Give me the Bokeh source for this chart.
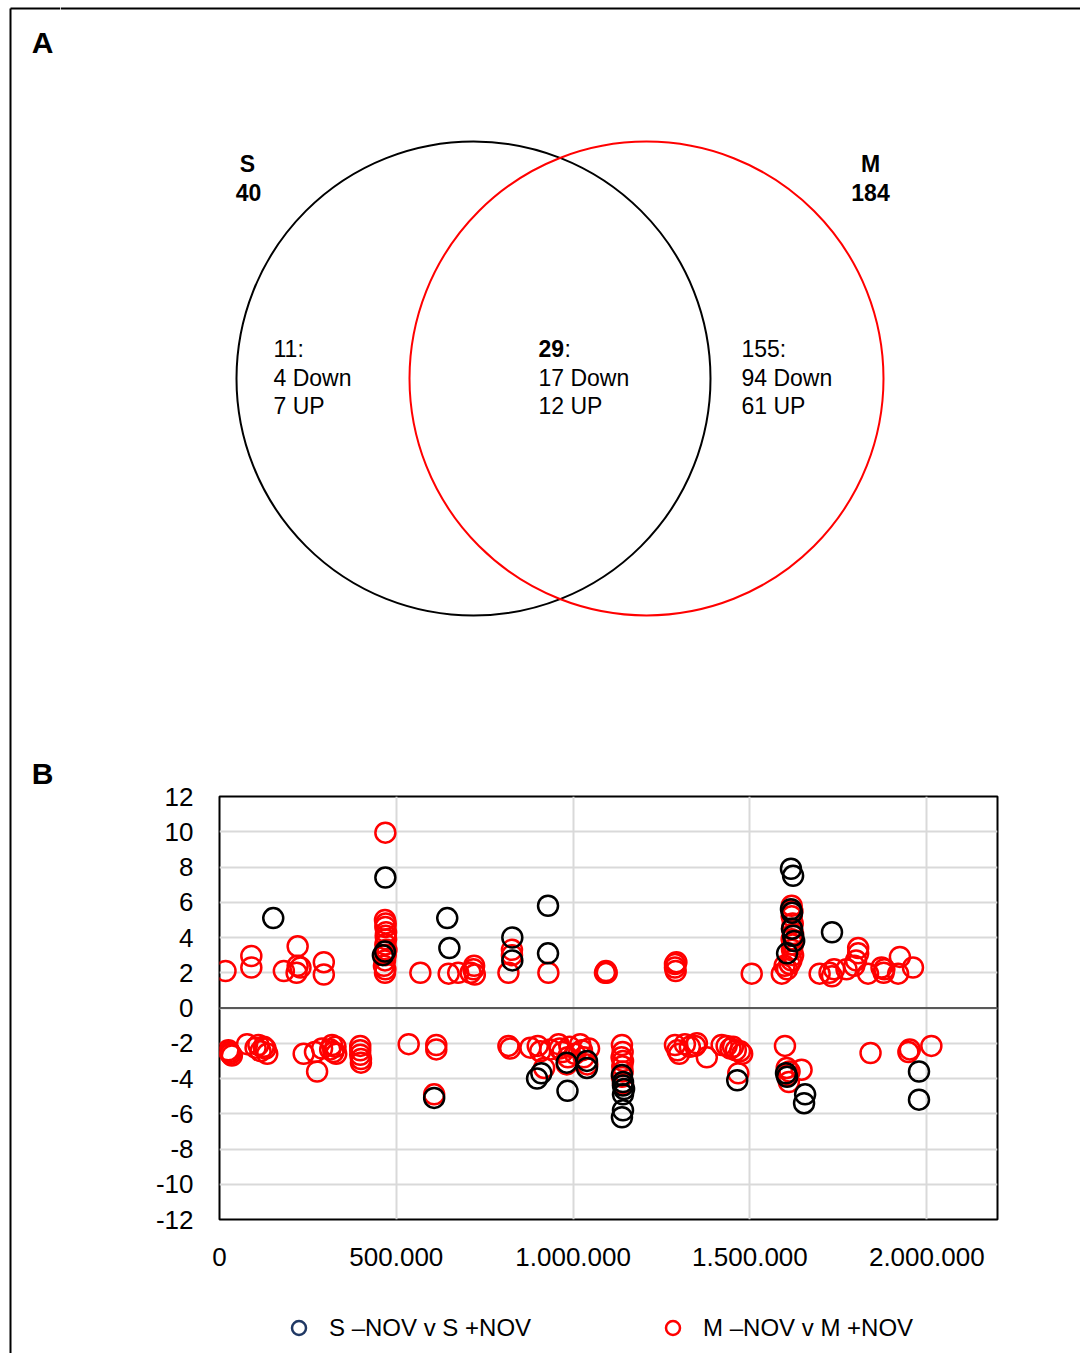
from bokeh.plotting import figure
from bokeh.models import Range1d, Legend, LegendItem, Span, FixedTicker
from bokeh.layouts import column, row
from bokeh.embed import file_html
from bokeh.resources import INLINE
from bokeh.core.properties import value

FONT = "Liberation Sans"

# ---------------- Panel A: Venn counts ----------------
set_names = ["S", "M"]
set_totals = [40, 184]
region_totals = [11, 29, 155]      # S only, both, M only
region_down = [4, 17, 94]
region_up = [7, 12, 61]

# ---------------- Panel B: scatter data ----------------
# S -NOV v S +NOV (black)
s_up_x = [152000, 469000, 462000, 468000, 644000, 650000, 828000, 828000, 929000, 929000,
          1616000, 1622000, 1616000, 1619000, 1619000, 1622000, 1625000, 1605000, 1732000]
s_up_y = [5.1, 7.4, 3.0, 3.2, 5.1, 3.4, 4.0, 2.7, 5.8, 3.1,
          7.9, 7.5, 5.6, 5.4, 4.5, 4.1, 3.8, 3.1, 4.3]
s_down_x = [607000, 898000, 910000, 984000, 982000, 1039000, 1039000,
            1138000, 1141000, 1144000, 1141000, 1141000, 1141000, 1138000,
            1464000, 1602000, 1605000, 1656000, 1653000, 1978000, 1978000]
s_down_y = [-5.1, -4.0, -3.7, -4.7, -3.1, -3.0, -3.4,
            -3.8, -4.2, -4.6, -4.4, -4.9, -5.8, -6.2,
            -4.1, -3.7, -3.9, -4.9, -5.4, -3.6, -5.2]

# M -NOV v M +NOV (red)
m_up_x = [17000, 90000, 90000, 182000, 221000, 221000, 218000, 229000, 295000, 295000,
          469000, 468000, 470000, 469000, 471000, 470000, 471000, 469000, 472000, 470000,
          468000, 465000, 469000, 468000, 568000, 648000, 675000, 710000, 718000, 720000,
          722000, 817000, 827000, 827000, 930000, 1093000, 1095000, 1090000, 1288000, 1288000,
          1290000, 1292000, 1505000, 1590000, 1598000, 1605000, 1618000, 1620000, 1618000, 1621000,
          1619000, 1622000, 1618000, 1621000, 1619000, 1622000, 1617000, 1612000, 1697000, 1725000,
          1732000, 1738000, 1773000, 1806000, 1806000, 1800000, 1795000, 1834000, 1872000, 1878000,
          1880000, 1919000, 1924000, 1961000]
m_up_y = [2.1, 2.95, 2.3, 2.1, 3.5, 2.4, 2.0, 2.3, 2.6, 1.9,
          9.95, 5.0, 4.8, 4.6, 4.3, 4.1, 3.9, 3.6, 3.3, 3.0,
          2.7, 2.4, 2.2, 2.0, 2.0, 1.95, 2.0, 2.0, 2.2, 2.4,
          1.9, 2.0, 3.3, 3.0, 2.0, 2.1, 2.0, 2.0, 2.5, 2.3,
          2.1, 2.6, 1.95, 1.95, 2.4, 2.2, 5.8, 5.5, 5.2, 4.8,
          4.5, 4.2, 3.9, 3.6, 3.3, 3.0, 2.7, 2.5, 1.95, 2.0,
          1.8, 2.2, 2.2, 3.4, 3.1, 2.7, 2.4, 1.95, 2.3, 2.0,
          2.2, 1.95, 2.9, 2.3]
m_down_x = [31000, 25000, 28000, 35000, 78000, 102000, 110000, 116000, 125000, 130000,
            135000, 238000, 276000, 270000, 290000, 313000, 318000, 322000, 328000, 330000,
            398000, 398000, 398000, 400000, 400000, 535000, 613000, 613000, 607000, 817000,
            822000, 879000, 900000, 907000, 918000, 935000, 959000, 962000, 970000, 982000,
            985000, 990000, 1005000, 1020000, 1025000, 1030000, 1040000, 1045000, 1138000, 1140000,
            1137000, 1141000, 1139000, 1140000, 1138000, 1141000, 1288000, 1295000, 1300000, 1316000,
            1330000, 1345000, 1350000, 1378000, 1420000, 1434000, 1445000, 1452000, 1460000, 1472000,
            1478000, 1467000, 1599000, 1604000, 1608000, 1610000, 1612000, 1646000, 1841000, 1952000,
            1948000, 2013000]
m_down_y = [-2.6, -2.4, -2.5, -2.7, -2.05, -2.25, -2.1, -2.45, -2.2, -2.3,
            -2.6, -2.6, -3.6, -2.5, -2.3, -2.35, -2.1, -2.5, -2.2, -2.6,
            -2.15, -2.4, -2.65, -2.9, -3.1, -2.05, -2.1, -2.35, -4.9, -2.15,
            -2.3, -2.25, -2.15, -2.45, -3.4, -2.35, -2.05, -2.3, -2.5, -3.2,
            -2.8, -2.2, -2.6, -2.05, -2.4, -2.8, -3.2, -2.3, -2.1, -2.5,
            -2.8, -3.0, -3.3, -3.6, -3.9, -4.3, -2.1, -2.4, -2.6, -2.05,
            -2.2, -2.15, -2.0, -2.8, -2.1, -2.15, -2.3, -2.2, -2.4, -2.45,
            -2.6, -3.7, -2.15, -3.4, -3.8, -4.2, -3.6, -3.5, -2.55, -2.35,
            -2.5, -2.15]

x_ticks = [0, 500000, 1000000, 1500000, 2000000]
x_tick_labels = ["0", "500.000", "1.000.000", "1.500.000", "2.000.000"]
y_ticks = [-12, -10, -8, -6, -4, -2, 0, 2, 4, 6, 8, 10, 12]
y_tick_labels = ["-12", "-10", "-8", "-6", "-4", "-2", "0", "2", "4", "6", "8", "10", "12"]
series_labels = ["S \u2013NOV v S +NOV", "M \u2013NOV v M +NOV"]


def blank_fig(width, height, x_range, y_range):
    f = figure(width=width, height=height, x_range=x_range, y_range=y_range,
               x_axis_location=None, y_axis_location=None, min_border=0,
               outline_line_color=None, toolbar_location=None, output_backend="svg",
               frame_align=False)
    f.grid.visible = False
    return f


# ---------------- left strip (frame line + panel letters) ----------------
strip = blank_fig(60, 1353, Range1d(0, 60), Range1d(1353, 0))
strip.segment(x0=[10], y0=[8], x1=[10], y1=[1353], line_color="black", line_width=2)
strip.segment(x0=[10], y0=[8], x1=[60], y1=[8], line_color="black", line_width=2)
strip.text(x=[42, 42], y=[42, 773], text=["A", "B"], text_font=value(FONT),
           text_font_style="bold", text_font_size="30px", text_align="center",
           text_baseline="middle", text_color="black")

# ---------------- Panel A ----------------
top = blank_fig(1020, 760, Range1d(60, 1080), Range1d(760, 0))
top.segment(x0=[60], y0=[8], x1=[1080], y1=[8], line_color="black", line_width=2)
top.circle(x=[473], y=[378], radius=237, fill_color=None, line_color="black", line_width=2)
top.circle(x=[646], y=[378], radius=237, fill_color=None, line_color="red", line_width=2)

top.text(x=[247, 870], y=[163, 163], text=set_names, text_font=value(FONT),
         text_font_style="bold", text_font_size="23px", text_align="center",
         text_baseline="middle", text_color="black")
top.text(x=[248, 870], y=[192, 192], text=[str(v) for v in set_totals], text_font=value(FONT),
         text_font_style="bold", text_font_size="23px", text_align="center",
         text_baseline="middle", text_color="black")

region_x = [273, 538, 741]
top.text(x=[region_x[0], region_x[2]], y=[348, 348],
         text=[f"{region_totals[0]}:", f"{region_totals[2]}:"], text_font=value(FONT),
         text_font_size="23px", text_baseline="middle", text_color="black")
top.text(x=[region_x[1]], y=[348], text=[str(region_totals[1])], text_font=value(FONT),
         text_font_style="bold", text_font_size="23px", text_baseline="middle", text_color="black")
top.text(x=[region_x[1] + 26], y=[348], text=[":"], text_font=value(FONT),
         text_font_size="23px", text_baseline="middle", text_color="black")
top.text(x=region_x, y=[377] * 3, text=[f"{d} Down" for d in region_down], text_font=value(FONT),
         text_font_size="23px", text_baseline="middle", text_color="black")
top.text(x=region_x, y=[405] * 3, text=[f"{u} UP" for u in region_up], text_font=value(FONT),
         text_font_size="23px", text_baseline="middle", text_color="black")

# ---------------- Panel B ----------------
p = figure(width=1020, height=540, x_range=Range1d(0, 2200000), y_range=Range1d(-12, 12),
           min_border_left=159, min_border_right=83, min_border_top=36, min_border_bottom=81,
           toolbar_location=None, output_backend="svg", frame_align=False)
p.outline_line_color = "black"
p.outline_line_width = 2
p.xaxis.ticker = FixedTicker(ticks=x_ticks)
p.yaxis.ticker = FixedTicker(ticks=y_ticks)
p.xaxis.major_label_overrides = {t: l for t, l in zip(x_ticks, x_tick_labels)}
p.yaxis.major_label_overrides = {t: l for t, l in zip(y_ticks, y_tick_labels)}
for ax in (p.xaxis, p.yaxis):
    ax.axis_line_color = None
    ax.major_tick_line_color = None
    ax.minor_tick_line_color = None
    ax.major_label_text_font = FONT
    ax.major_label_text_font_size = "26px"
    ax.major_label_text_color = "black"
p.xaxis.major_label_standoff = 22
p.yaxis.major_label_standoff = 20
p.xgrid.grid_line_color = "#d9d9d9"
p.xgrid.grid_line_width = 2
p.ygrid.grid_line_color = "#d9d9d9"
p.ygrid.grid_line_width = 2
p.add_layout(Span(location=0, dimension="width", line_color="#595959", line_width=2))

marker_kw = dict(marker="circle", size=20, fill_color=None, line_width=2.5)
p.scatter(m_up_x + m_down_x, m_up_y + m_down_y, line_color="red", **marker_kw)
p.scatter(s_up_x + s_down_x, s_up_y + s_down_y, line_color="black", **marker_kw)

# ---------------- legend strip ----------------
leg = blank_fig(1020, 53, Range1d(60, 1080), Range1d(0, 53))
# off-range placeholder points so the legend can draw its glyphs
r_s = leg.scatter([-100], [-100], marker="circle", size=14, fill_color=None,
                  line_color="#203864", line_width=2.5)
r_m = leg.scatter([-100], [-100], marker="circle", size=14, fill_color=None,
                  line_color="red", line_width=2.5)
legend = Legend(items=[LegendItem(label=series_labels[0], renderers=[r_s]),
                       LegendItem(label=series_labels[1], renderers=[r_m])],
                location=(221, 8), orientation="horizontal", glyph_width=35, glyph_height=35,
                label_standoff=13, spacing=124, padding=0, margin=0,
                border_line_color=None, background_fill_alpha=0,
                label_text_font=FONT, label_text_font_size="24px", label_text_color="black")
leg.add_layout(legend)

layout = row(strip, column(top, p, leg))
open("out.html", "w").write(file_html(layout, INLINE))
